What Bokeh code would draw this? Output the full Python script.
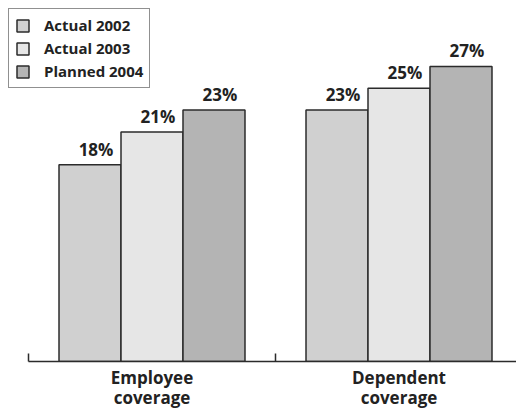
from bokeh.plotting import figure
from bokeh.models import Range1d, FixedTicker, ColumnDataSource
from bokeh.core.properties import value
from bokeh.embed import file_html
from bokeh.resources import INLINE

categories = ["Employee\ncoverage", "Dependent\ncoverage"]
series_names = ["Actual 2002", "Actual 2003", "Planned 2004"]
actual_2002 = [18, 23]
actual_2003 = [21, 25]
planned_2004 = [23, 27]

series_values = [actual_2002, actual_2003, planned_2004]
fills = ["#d0d0d0", "#e6e6e6", "#b4b4b4"]
offsets = [-0.251, 0.0, 0.251]
bar_w = 0.251

FONT = "Open Sans"

p = figure(width=516, height=412, output_backend="svg", toolbar_location=None,
           x_range=Range1d(-28 / 247, 488 / 247), y_range=Range1d(0, 33.03),
           y_axis_location=None, min_border_left=0, min_border_right=0,
           min_border_top=0, min_border_bottom=50)
p.outline_line_color = None
p.xgrid.visible = False
p.ygrid.visible = False
p.background_fill_color = "white"

for name, vals, col, off in zip(series_names, series_values, fills, offsets):
    xs = [i + 0.5 + off for i in range(len(categories))]
    src = ColumnDataSource(dict(x=xs, top=vals, lbl=[f"{v}%" for v in vals]))
    p.vbar(x="x", top="top", width=bar_w, bottom=0, source=src,
           fill_color=col, line_color="#2b2b2b", line_width=1.5,
           legend_label=name)
    p.text(x="x", y="top", text="lbl", source=src, x_offset=6, y_offset=-4,
           text_align="center", text_baseline="bottom",
           text_font=value(FONT), text_font_style="bold",
           text_font_size="17px", text_color="#222222")

ax = p.xaxis[0]
ax.ticker = FixedTicker(ticks=[0.5, 1.5], minor_ticks=[0, 1])
ax.major_label_overrides = {0.5: categories[0], 1.5: categories[1]}
ax.bounds = (0, 2)
ax.axis_line_color = "#2b2b2b"
ax.axis_line_width = 1.5
ax.major_tick_in = 0
ax.major_tick_out = 0
ax.minor_tick_in = 8
ax.minor_tick_out = 0
ax.minor_tick_line_color = "#2b2b2b"
ax.minor_tick_line_width = 1.5
ax.major_label_standoff = 4
ax.major_label_text_font = FONT
ax.major_label_text_font_style = "bold"
ax.major_label_text_font_size = "17px"
ax.major_label_text_line_height = 0.9
ax.major_label_text_color = "#222222"

lg = p.legend[0]
lg.location = "top_left"
lg.margin = 8
lg.padding = 6
lg.glyph_width = 15
lg.glyph_height = 15
lg.label_height = 15
lg.spacing = 3
lg.label_standoff = 14
lg.border_line_color = "#222222"
lg.border_line_width = 1
lg.background_fill_alpha = 1
lg.label_text_font = FONT
lg.label_text_font_style = "bold"
lg.label_text_font_size = "15px"
lg.label_text_color = "#222222"

open("out.html", "w").write(file_html(p, INLINE))
